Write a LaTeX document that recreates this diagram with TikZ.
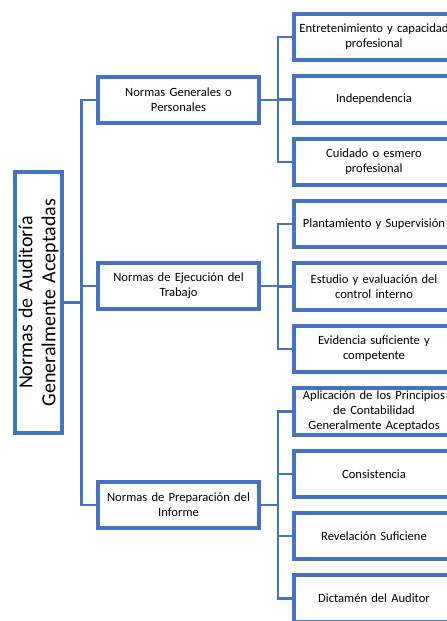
\documentclass[tikz,border=0pt]{standalone}
\usepackage{fontspec}
\setmainfont{Carlito}
\usetikzlibrary{positioning}
\definecolor{azul}{RGB}{68,114,196}

\begin{document}
\begin{tikzpicture}[x=1pt,y=-1pt,
  caja/.style={draw=azul,line width=4pt,fill=white,minimum width=161pt,minimum height=46.5pt,
    text width=158pt,align=center,inner sep=1pt,font=\fontsize{12.6}{15}\selectfont},
  enlace/.style={draw=azul,line width=2.4pt}]
\clip (0,0) rectangle (447,621);
% raiz
\node[caja,rotate=90,minimum width=261pt,minimum height=47pt,text width=255pt,
  font=\fontsize{20}{23}\selectfont] (raiz) at (38.5,302.5) {Normas de Auditoría\\Generalmente Aceptadas};

% primer nivel
\node[caja] (generales) at (178.5,100) {Normas Generales o\\Personales};
\node[caja] (ejecucion) at (178.5,286) {Normas de Ejecución del\\Trabajo};
\node[caja] (informe) at (178.5,505) {Normas de Preparación del\\Informe};

% segundo nivel
\node[caja] (entrenamiento) at (374,37) {Entretenimiento y capacidad\\profesional};
\node[caja] (independencia) at (374,99.4) {Independencia};
\node[caja] (cuidado) at (374,161.8) {Cuidado o esmero\\profesional};
\node[caja] (planeamiento) at (374,224.2) {Plantamiento y Supervisión};
\node[caja] (control) at (374,286.6) {Estudio y evaluación del\\control interno};
\node[caja] (evidencia) at (374,349) {Evidencia suficiente y\\competente};
\node[caja] (principios) at (374,411.4) {Aplicación de los Principios\\de Contabilidad\\Generalmente Aceptados};
\node[caja] (consistencia) at (374,473.8) {Consistencia};
\node[caja] (revelacion) at (374,536.2) {Revelación Suficiene};
\node[caja] (dictamen) at (374,598.6) {Dictamén del Auditor};

% conectores
\draw[enlace] (raiz.south) -- ++(17.5,0) |- (generales.west);
\draw[enlace] (raiz.south) -- ++(17.5,0) |- (ejecucion.west);
\draw[enlace] (raiz.south) -- ++(17.5,0) |- (informe.west);

\draw[enlace] (generales.east) -- ++(17,0) |- (entrenamiento.west);
\draw[enlace] (generales.east) -- ++(17,0) |- (independencia.west);
\draw[enlace] (generales.east) -- ++(17,0) |- (cuidado.west);

\draw[enlace] (ejecucion.east) -- ++(17,0) |- (planeamiento.west);
\draw[enlace] (ejecucion.east) -- ++(17,0) |- (control.west);
\draw[enlace] (ejecucion.east) -- ++(17,0) |- (evidencia.west);

\draw[enlace] (informe.east) -- ++(17,0) |- (principios.west);
\draw[enlace] (informe.east) -- ++(17,0) |- (consistencia.west);
\draw[enlace] (informe.east) -- ++(17,0) |- (revelacion.west);
\draw[enlace] (informe.east) -- ++(17,0) |- (dictamen.west);

\end{tikzpicture}
\end{document}
